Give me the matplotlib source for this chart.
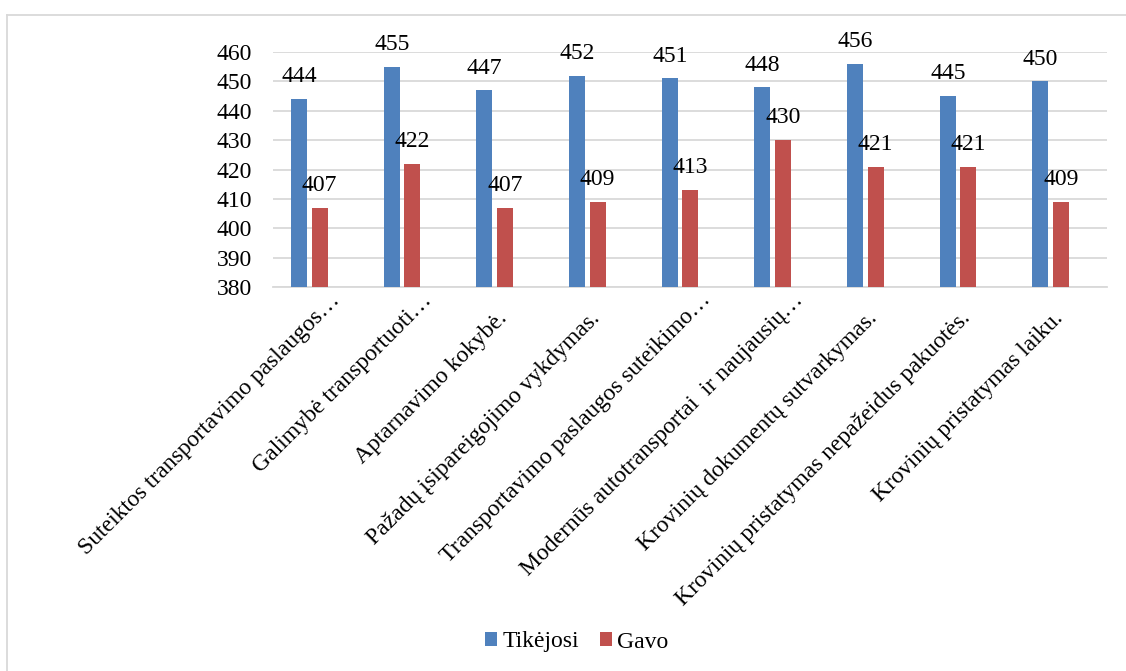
import glob
import numpy as np
import matplotlib.pyplot as plt
from matplotlib import font_manager
from matplotlib.transforms import ScaledTranslation
from matplotlib.lines import Line2D

# Survey results: expected vs received service quality
categories = [
    "Suteiktos transportavimo paslaugos…",
    "Galimybė transportuoti…",
    "Aptarnavimo kokybė.",
    "Pažadų įsipareigojimo vykdymas.",
    "Transportavimo paslaugos suteikimo…",
    "Modernūs autotransportai  ir naujausių…",
    "Krovinių dokumentų sutvarkymas.",
    "Krovinių pristatymas nepažeidus pakuotės.",
    "Krovinių pristatymas laiku.",
]
tikejosi = [444, 455, 447, 452, 451, 448, 456, 445, 450]
gavo = [407, 422, 407, 409, 413, 430, 421, 421, 409]
series_names = ["Tikėjosi", "Gavo"]
yticks = list(range(380, 461, 10))

blue = "#4F81BD"
red = "#C0504D"
grid_col = "#D9D9D9"

# make sure the Times-like font is registered
for f in glob.glob("/usr/share/fonts/**/LiberationSerif-Regular.ttf", recursive=True):
    font_manager.fontManager.addfont(f)
plt.rcParams["font.family"] = ["Liberation Serif", "DejaVu Serif"]
fs = 17

fig = plt.figure(figsize=(11.26, 6.71), dpi=100)
ax = fig.add_axes([273 / 1126, 1 - 287 / 671, (1107 - 273) / 1126, (287 - 52) / 671])

x = np.arange(len(categories))
w = 0.173
off = 0.11
b1 = ax.bar(x - off, tikejosi, w, color=blue, label=series_names[0], zorder=3)
b2 = ax.bar(x + off, gavo, w, color=red, label=series_names[1], zorder=3)

# data labels above the bars
for bars, vals in ((b1, tikejosi), (b2, gavo)):
    for rect, v in zip(bars, vals):
        ax.annotate(str(v), (rect.get_x() + rect.get_width() / 2, v),
                    xytext=(0, 12), textcoords="offset points",
                    ha="center", va="baseline", fontsize=fs, zorder=4)

ax.set_ylim(380, 460)
ax.set_yticks(yticks)
ax.set_xlim(-0.5 + 10 / 92.6, 8.5 + 10 / 92.6)
ax.grid(axis="y", color=grid_col, linewidth=1.3, zorder=0)
ax.set_axisbelow(True)
for s in ["top", "right", "left"]:
    ax.spines[s].set_visible(False)
ax.spines["bottom"].set_color(grid_col)
ax.spines["bottom"].set_linewidth(1.3)
ax.tick_params(axis="y", length=0, pad=15, labelsize=fs)
ax.tick_params(axis="x", length=0)
ax.set_xticks(x)
ax.set_xticklabels([])

# rotated category labels (Excel style, right end under the tick)
cat_centers = x + 10 / 92.6
for cx, lab in zip(cat_centers, categories):
    if lab.endswith("…"):
        dx, dy = 21, 14
    else:
        dx, dy = 3, 32
    tr = ax.get_xaxis_transform() + ScaledTranslation(dx / 100, -dy / 100, fig.dpi_scale_trans)
    ax.text(cx, 0, lab, transform=tr, rotation=45, rotation_mode="anchor",
            ha="right", va="baseline", fontsize=fs, clip_on=False)

fig.legend(handles=[b1, b2], labels=series_names, loc="center",
           bbox_to_anchor=(577 / 1126, 1 - 642 / 671), ncol=2, frameon=False,
           fontsize=fs, handlelength=0.5, handleheight=0.5, handletextpad=0.25,
           columnspacing=0.85)

# chart area border
fig.add_artist(Line2D([6.5 / 1126, 1], [1 - 15 / 671, 1 - 15 / 671],
                      transform=fig.transFigure, color=grid_col, linewidth=1.3))
fig.add_artist(Line2D([6.5 / 1126, 6.5 / 1126], [0, 1 - 15 / 671],
                      transform=fig.transFigure, color=grid_col, linewidth=1.3))

fig.savefig("out.png", dpi=100, facecolor="white")
